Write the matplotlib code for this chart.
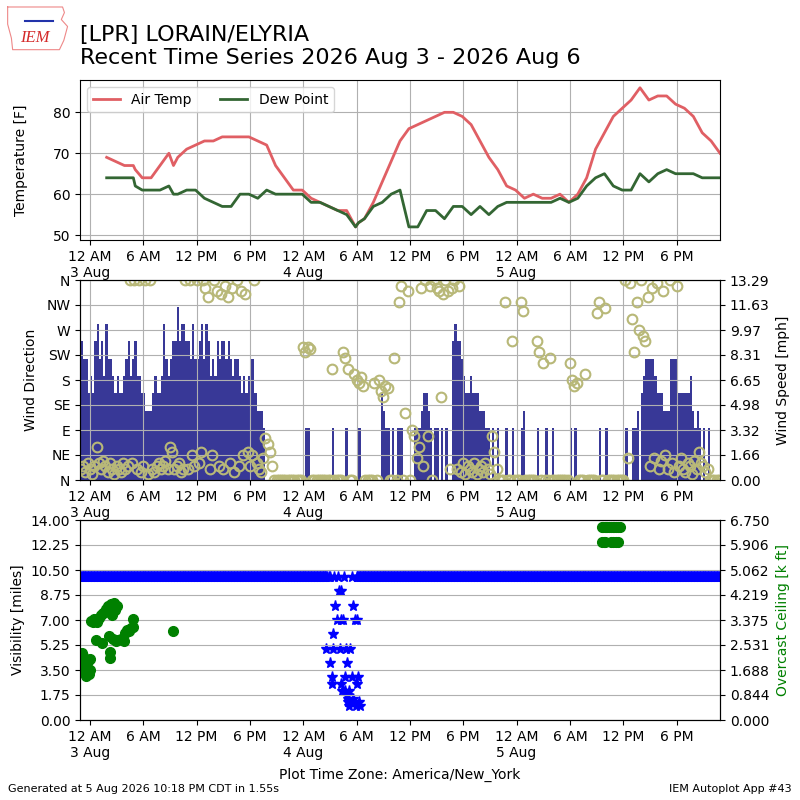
import matplotlib
matplotlib.use("Agg")
import matplotlib.pyplot as plt
import matplotlib.dates as mdates
from matplotlib.ticker import FixedLocator, FuncFormatter
import numpy as np
import pandas as pd

# ---- hourly obs (temperature / dew point), every hour at :53 ----
obs_times = pd.date_range("2026-08-03 01:53", "2026-08-05 22:53", freq="h")
air_temp = [69, 68, 67, 67, 64, 64, 67, 70, 69, 71,
            72, 73, 73, 74, 74, 74, 74, 73, 72, 67,
            64, 61, 61, 59, 58, 57, 56, 56, 52, 54,
            58, 63, 68, 73, 76, 77, 78, 79, 80, 80,
            79, 77, 73, 69, 66, 62, 61, 59, 60, 59,
            59, 60, 58, 60, 64, 71, 75, 79, 81, 83,
            86, 83, 84, 84, 82, 81, 79, 75, 73, 70]
dew_point = [64, 64, 64, 64, 61, 61, 61, 62, 60, 61,
             61, 59, 58, 57, 57, 60, 60, 59, 61, 60,
             60, 60, 60, 58, 58, 57, 56, 55, 52, 54,
             57, 58, 60, 61, 52, 52, 56, 56, 54, 57,
             57, 55, 57, 55, 57, 58, 58, 58, 58, 58,
             58, 59, 58, 59, 62, 64, 65, 62, 61, 61,
             65, 63, 65, 66, 65, 65, 65, 64, 64, 64]
# special obs
special_times = ["2026-08-03 05:06", "2026-08-03 09:24", "2026-08-04 06:12"]
special_temp = [66, 67, 53]
special_dew = [62, 60, 53]

# ---- wind, 15 minute bins starting 2 Aug 23:00 (knots / degrees) ----
wind_start = "2026-08-02 23:00"
wind_speed_kt = [
    8, 7, 7, 5, 6, 5, 8, 9, 7, 8, 6, 9, 7, 7, 6, 5, 6, 5, 5, 6, 7, 8, 6, 7,
    8, 6, 6, 5, 5, 4, 4, 4, 5, 6, 5, 5, 6, 9, 7, 6, 7, 8, 8, 10, 8, 9, 9, 8,
    8, 7, 9, 7, 7, 8, 9, 7, 9, 8, 6, 7, 6, 8, 7, 8, 8, 7, 8, 7, 6, 7, 7, 6,
    5, 6, 5, 6, 7, 7, 5, 4, 4, 4, 3, 0, 0, 0, 0, 0, 0, 0, 0, 0, 0, 0, 0, 0,
    0, 0, 0, 0, 0, 3, 3, 0, 0, 0, 0, 0, 0, 0, 0, 0, 0, 3, 0, 0, 0, 0, 0, 3,
    0, 0, 0, 0, 3, 3, 0, 0, 0, 0, 0, 0, 0, 0, 0, 5, 4, 3, 3, 0, 3, 0, 3, 3,
    3, 0, 0, 0, 0, 0, 3, 3, 3, 4, 5, 5, 4, 3, 0, 3, 3, 0, 3, 0, 3, 0, 0, 8,
    9, 8, 8, 7, 6, 5, 5, 6, 5, 5, 5, 4, 4, 4, 3, 3, 0, 3, 0, 3, 0, 0, 0, 3,
    0, 0, 3, 0, 0, 0, 3, 4, 0, 0, 0, 0, 0, 3, 0, 0, 0, 3, 0, 0, 3, 0, 0, 0,
    0, 0, 0, 0, 3, 0, 3, 0, 0, 0, 0, 0, 0, 0, 0, 0, 0, 3, 0, 0, 3, 0, 0, 0,
    0, 0, 0, 0, 0, 3, 0, 0, 3, 3, 4, 0, 5, 6, 7, 7, 7, 7, 6, 5, 5, 5, 4, 4,
    4, 7, 7, 7, 5, 5, 5, 5, 5, 5, 6, 4, 3, 4, 3, 0, 3, 0, 3, 0, 0, 0, 0, 0,
]
wind_dir = [
    20, 25, 15, 30, 20, 10, 25, 60, 30, 20, 35, 25, 15, 30, 20, 10, 25, 20, 15, 30, 20, 25, 360, 30,
    360, 20, 360, 15, 25, 360, 10, 360, 20, 15, 25, 30, 20, 25, 35, 20, 60, 50, 20, 25, 30, 15, 20, 360,
    20, 360, 45, 25, 360, 30, 50, 360, 345, 330, 20, 45, 360, 340, 25, 335, 20, 350, 330, 30, 345, 15, 360, 25,
    340, 45, 335, 50, 25, 45, 360, 30, 20, 15, 40, 75, 65, 50, 25, 0, 0, 0, 0, 0, 0, 0, 0, 0,
    0, 0, 0, 0, 240, 230, 240, 235, 0, 0, 0, 0, 0, 0, 0, 0, 0, 200, 0, 0, 0, 0, 230, 220,
    200, 0, 0, 190, 180, 175, 185, 170, 0, 0, 0, 0, 175, 0, 180, 160, 150, 170, 165, 0, 0, 220, 0, 320,
    350, 0, 120, 340, 0, 90, 80, 40, 60, 345, 25, 360, 80, 350, 0, 360, 345, 340, 150, 335, 360, 340, 20, 345,
    360, 20, 350, 15, 30, 10, 25, 20, 15, 30, 10, 20, 25, 15, 30, 20, 10, 80, 50, 20, 0, 0, 0, 320,
    0, 0, 250, 0, 0, 0, 320, 305, 0, 0, 0, 0, 0, 250, 230, 0, 210, 0, 0, 220, 0, 0, 0, 0,
    0, 0, 0, 0, 210, 180, 170, 175, 0, 0, 0, 190, 0, 0, 0, 0, 300, 320, 0, 0, 310, 0, 0, 0,
    0, 0, 0, 0, 0, 360, 40, 355, 290, 230, 320, 270, 360, 260, 250, 330, 25, 345, 40, 355, 20, 35, 340, 45,
    20, 360, 30, 15, 350, 25, 40, 20, 15, 30, 25, 10, 35, 20, 50, 30, 25, 15, 20, 0, 0, 0, 0, 0,
]

# ---- visibility: 10 mi (5 minute obs) except a fog dip on the morning of 4 Aug ----
vis_clear = 10.0
vis_dip_start, vis_dip_end = "2026-08-04 02:36", "2026-08-04 06:00"
vis_dip_times = ["02:33", "02:42", "02:51", "03:00", "03:03", "03:12", "03:15", "03:21", "03:24",
                 "03:30", "03:36", "03:45", "03:54", "04:00", "04:06", "04:12", "04:15", "04:18",
                 "04:24", "04:30", "04:33", "04:39", "04:42", "04:48", "04:54", "04:57", "05:00",
                 "05:03", "05:09", "05:12", "05:18", "05:27", "05:30", "05:33", "05:36", "05:42",
                 "05:48", "05:54", "06:00", "06:06", "06:12", "06:18", "06:24"]
vis_dip = [5.0, 10, 10, 4.0, 10, 3.0, 2.5, 6.0, 5.0,
           10, 8.0, 7.0, 10, 9.0, 5.0, 9.0, 7.0, 2.5,
           2.0, 7.0, 10, 3.0, 2.0, 5.0, 4.0, 1.75, 1.5,
           1.25, 1.0, 2.0, 5.0, 3.0, 10, 8.0, 1.5, 1.25,
           7.0, 1.0, 7.0, 2.5, 3.0, 1.25, 1.0]

# ---- overcast ceiling [k ft] ----
ceil_times = ["08-02 23:09", "08-02 23:12", "08-02 23:18", "08-02 23:21", "08-02 23:27",
              "08-02 23:33", "08-02 23:36", "08-02 23:42", "08-02 23:48", "08-02 23:54",
              "08-03 00:00", "08-03 00:03", "08-03 00:06", "08-03 00:18", "08-03 00:27",
              "08-03 00:39", "08-03 00:48", "08-03 01:00", "08-03 01:12", "08-03 01:24",
              "08-03 01:30", "08-03 01:42", "08-03 01:51", "08-03 02:00", "08-03 02:06",
              "08-03 02:15", "08-03 02:18", "08-03 02:21", "08-03 02:30", "08-03 02:36",
              "08-03 02:42", "08-03 02:48", "08-03 02:54", "08-03 03:00", "08-03 03:12",
              "08-03 03:30", "08-03 03:48", "08-03 04:00", "08-03 04:12", "08-03 04:24",
              "08-03 04:36", "08-03 04:48", "08-03 04:54", "08-03 09:18",
              "08-05 09:36", "08-05 09:45", "08-05 09:54", "08-05 10:03", "08-05 10:12",
              "08-05 10:24", "08-05 10:36", "08-05 10:48", "08-05 11:00", "08-05 11:12",
              "08-05 11:24", "08-05 11:36",
              "08-05 09:36", "08-05 09:48", "08-05 10:00", "08-05 10:36", "08-05 10:54",
              "08-05 11:12", "08-05 11:24"]
ceil_kft = [2.25, 2.15, 2.0, 1.75, 1.65, 1.5, 1.6, 1.8, 2.0, 1.55,
            2.05, 1.7, 3.35, 3.3, 3.4, 2.7, 3.3, 3.45, 3.55, 2.6,
            3.6, 3.65, 3.75, 3.85, 2.85, 2.3, 2.1, 3.9, 3.55, 2.75,
            3.95, 3.7, 2.65, 3.85, 2.7, 2.75, 2.65, 2.95, 3.05, 3.0,
            3.1, 3.15, 3.42, 3.0,
            6.5, 6.5, 6.5, 6.5, 6.5, 6.5, 6.5, 6.5, 6.5, 6.5, 6.5, 6.5,
            6.0, 6.0, 6.0, 6.0, 6.0, 6.0, 6.0]

dir_labels = ["N", "NE", "E", "SE", "S", "SW", "W", "NW", "N"]

# ---------------------------------------------------------------
t_all = list(obs_times) + list(pd.to_datetime(special_times))
temps = pd.DataFrame({"t": t_all, "tmpf": air_temp + special_temp,
                      "dwpf": dew_point + special_dew}).sort_values("t")

wind_times = pd.date_range(wind_start, periods=len(wind_speed_kt), freq="15min")
speed_mph = np.array(wind_speed_kt) * 1.15078

vis_grid = pd.date_range("2026-08-02 22:55", "2026-08-05 22:50", freq="5min")
in_dip = (vis_grid > pd.Timestamp(vis_dip_start)) & (vis_grid < pd.Timestamp(vis_dip_end))
vis_t = list(vis_grid[~in_dip]) + list(pd.to_datetime(["2026-08-04 " + s for s in vis_dip_times]))
vis_v = [vis_clear] * int((~in_dip).sum()) + vis_dip
ceil_t = pd.to_datetime(["2026-" + s for s in ceil_times])

xmin = pd.Timestamp("2026-08-02 22:53")
xmax = pd.Timestamp("2026-08-05 22:53")


def tick_fmt(x, pos):
    d = mdates.num2date(x)
    if d.hour == 0:
        return "12 AM\n%d Aug" % d.day
    h = d.hour % 12 or 12
    return "%d %s" % (h, "AM" if d.hour < 12 else "PM")


fig = plt.figure(figsize=(8, 8), dpi=100)
ax1 = fig.add_axes([0.1, 0.7, 0.8, 0.2])
ax2 = fig.add_axes([0.1, 0.4, 0.8, 0.25])
ax3 = fig.add_axes([0.1, 0.1, 0.8, 0.25])

# temperature
ax1.plot(temps["t"], temps["tmpf"], color="#e05f64", lw=2, label="Air Temp")
ax1.plot(temps["t"], temps["dwpf"], color="#336633", lw=2, label="Dew Point")
ax1.set_ylim(48.8, 87.9)
ax1.set_yticks([50, 60, 70, 80])
ax1.set_ylabel("Temperature [F]")
ax1.yaxis.set_label_coords(-0.081, 0.5)
ax1.grid(True)
ax1.legend(loc=2, ncol=2)

# wind
ax2b = ax2.twinx()
ax2b.bar(wind_times, speed_mph, width=15 / 1440.0, align="edge",
         color="#383897", linewidth=0)
ax2b.set_ylim(0, 13.2915)
ax2b.yaxis.set_major_locator(FixedLocator(np.linspace(0, 13.2915, 9)))
ax2b.yaxis.set_major_formatter(FuncFormatter(lambda v, p: "%.2f" % v))
ax2b.set_ylabel("Wind Speed [mph]")
ax2b.yaxis.set_label_coords(1.0875, 0.5)
ax2.set_zorder(ax2b.get_zorder() + 1)
ax2.patch.set_visible(False)
ax2.plot(wind_times, wind_dir, ls="none", marker="o", mfc="none",
         mec="#b8b878", ms=7, mew=1.5)
ax2.set_ylim(0, 360)
ax2.set_yticks(np.arange(0, 361, 45))
ax2.set_yticklabels(dir_labels)
ax2.set_ylabel("Wind Direction")
ax2.yaxis.set_label_coords(-0.065, 0.5)
ax2.grid(True)

# visibility / ceiling
ax3.plot(vis_t, vis_v, ls="none", marker="*", color="b", ms=8)
ax3.set_ylim(0, 14)
ax3.yaxis.set_major_locator(FixedLocator(np.linspace(0, 14, 9)))
ax3.yaxis.set_major_formatter(FuncFormatter(lambda v, p: "%.2f" % v))
ax3.set_ylabel("Visibility [miles]")
ax3.yaxis.set_label_coords(-0.086, 0.5)
ax3b = ax3.twinx()
ax3b.plot(ceil_t, ceil_kft, ls="none", marker="o", color="g", ms=7)
ax3b.set_ylim(0, 6.75)
ax3b.yaxis.set_major_locator(FixedLocator(np.linspace(0, 6.75, 9)))
ax3b.yaxis.set_major_formatter(FuncFormatter(lambda v, p: "%.3f" % v))
ax3b.set_ylabel("Overcast Ceiling [k ft]", color="g")
ax3b.yaxis.set_label_coords(1.0875, 0.5)
ax3b.grid(True)

for ax in (ax1, ax2, ax3):
    ax.set_xlim(xmin, xmax)
    ax.xaxis.set_major_locator(mdates.HourLocator(byhour=[0, 6, 12, 18]))
    ax.xaxis.set_major_formatter(FuncFormatter(tick_fmt))

fig.text(0.1, 0.9155, "[LPR] LORAIN/ELYRIA\nRecent Time Series 2026 Aug 3 - 2026 Aug 6",
         fontsize=16, va="bottom", ha="left", linespacing=1.15)

# small logo in the corner
logo = fig.add_axes([0.008, 0.935, 0.078, 0.058])
logo.set_axis_off()
logo.set_xlim(0, 1)
logo.set_ylim(0, 1)
logo.plot([0.02, 0.9, 0.93, 0.88, 0.98, 0.92, 0.85, 0.1, 0.08, 0.02, 0.02],
          [0.97, 0.97, 0.85, 0.7, 0.55, 0.25, 0.05, 0.05, 0.3, 0.6, 0.97],
          color="#e88", lw=0.8)
logo.plot([0.3, 0.75], [0.66, 0.66], color="#2233aa", lw=1.5)
logo.text(0.45, 0.3, "IEM", color="#d42a2a", fontsize=12, style="italic",
          family="Liberation Serif", ha="center", va="center")

fig.text(0.5, 0.031, "Plot Time Zone: America/New_York", ha="center", va="center", fontsize=10)
fig.text(0.01, 0.0137, "Generated at 5 Aug 2026 10:18 PM CDT in 1.55s", fontsize=8, va="center")
fig.text(0.99, 0.0137, "IEM Autoplot App #43", fontsize=8, va="center", ha="right")

fig.savefig("out.png", dpi=100)
